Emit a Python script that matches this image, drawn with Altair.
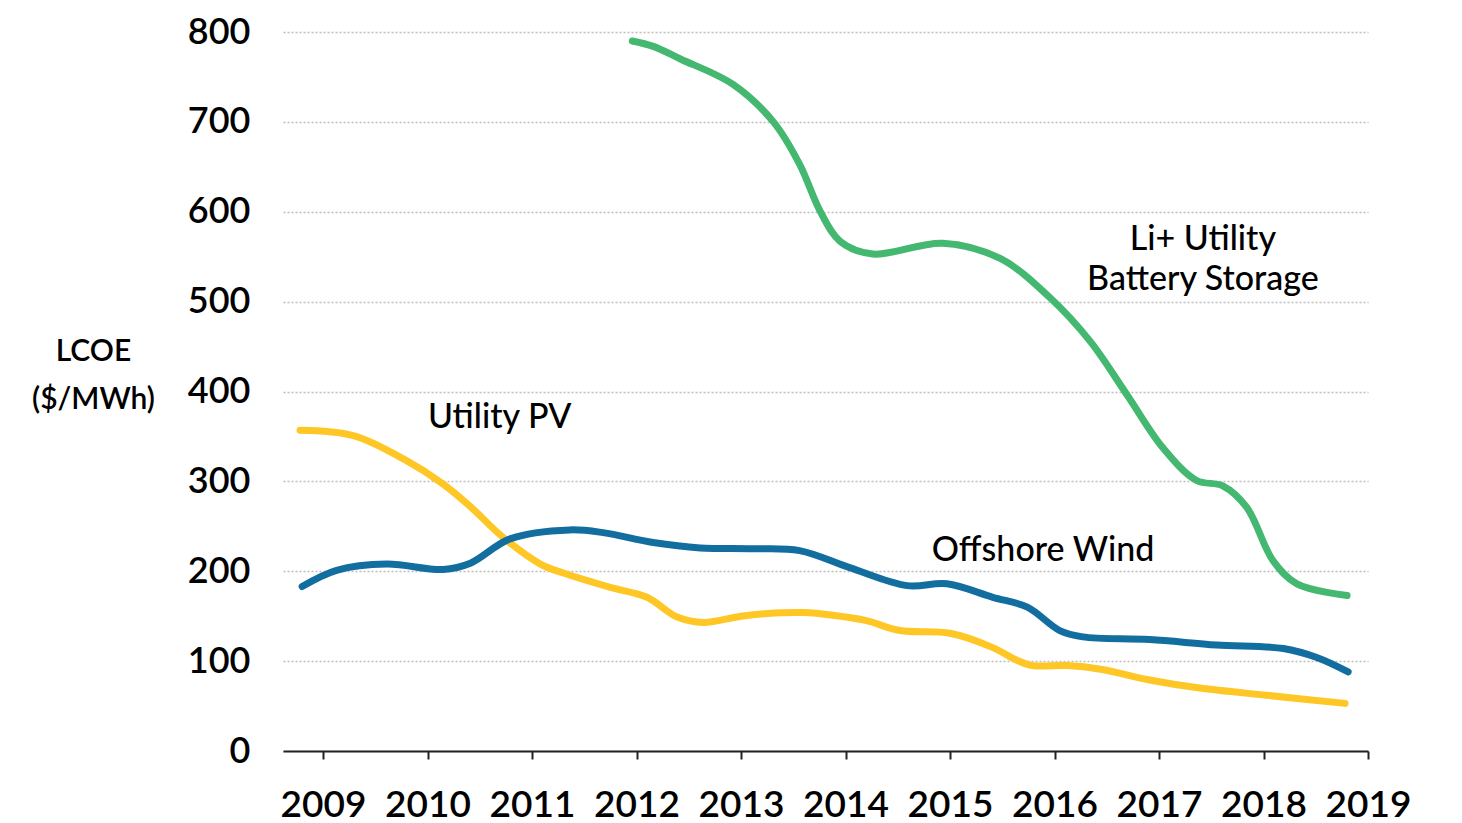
import altair as alt
import pandas as pd

# ---- data ----
pv_years = [2008.78, 2009.29, 2009.77, 2010.15, 2010.41, 2010.72, 2011.08, 2011.3, 2011.75, 2012.1,
            2012.39, 2012.64, 2013.0, 2013.25, 2013.6, 2013.88, 2014.2, 2014.52, 2015.0, 2015.41,
            2015.64, 2015.79, 2016.12, 2016.44, 2016.91, 2017.39, 2018.03, 2018.78]
pv_vals = [357, 351, 325, 297, 272, 238, 208, 198, 182, 171,
           149, 143, 150, 153, 154, 151, 145, 134, 131, 115,
           101, 95, 95, 91, 79, 70, 62, 53]

wind_years = [2008.8, 2009.13, 2009.61, 2010.15, 2010.41, 2010.79, 2011.36, 2011.68, 2012.16, 2012.61,
              2013.09, 2013.56, 2014.04, 2014.59, 2014.97, 2015.41, 2015.74, 2016.05, 2016.27, 2016.91,
              2017.55, 2018.19, 2018.51, 2018.81]
wind_vals = [183, 201, 208, 202, 209, 236, 246, 243, 232, 226,
             225, 223, 204, 184, 186, 171, 160, 134, 127, 124,
             118, 114, 104, 88]

batt_years = [2011.96, 2012.16, 2012.42, 2012.92, 2013.31, 2013.56, 2013.76, 2013.95, 2014.26, 2014.93,
              2015.48, 2015.96, 2016.34, 2016.69, 2017.04, 2017.36, 2017.61, 2017.84, 2018.09, 2018.32,
              2018.8]
batt_vals = [790, 784, 770, 742, 700, 653, 600, 567, 553, 565,
             548, 504, 456, 397, 337, 301, 295, 271, 212, 186,
             173]

series_names = ["Utility PV", "Offshore Wind", "Li+ Utility Battery Storage"]
series_colors = ["#FEC726", "#136EA0", "#44B870"]

tick_years = list(range(2009, 2020))

label_texts = ["Utility PV", "Offshore Wind", "Li+ Utility", "Battery Storage"]
label_years = [2010.69, 2015.89, 2017.42, 2017.42]
label_vals = [370, 223, 569, 524]

rows = []
for name, ys, vs in zip(series_names, [pv_years, wind_years, batt_years], [pv_vals, wind_vals, batt_vals]):
    for i, (yr, v) in enumerate(zip(ys, vs)):
        rows.append({"series": name, "year": yr, "value": v, "order": i})
df = pd.DataFrame(rows)
labels_df = pd.DataFrame({"text": label_texts, "year": label_years, "value": label_vals})

FONT = "Lato"

x_scale = alt.Scale(domain=[2008.617, 2019.0], nice=False, zero=False)
y_scale = alt.Scale(domain=[0, 800], nice=False)

lines = alt.Chart(df).mark_line(
    strokeWidth=7, interpolate="catmull-rom", strokeCap="round"
).encode(
    x=alt.X("year:Q", scale=x_scale,
            axis=alt.Axis(values=tick_years, format="d", title=None, grid=False,
                          domain=True, domainColor="#222222", domainWidth=2,
                          ticks=True, tickColor="#222222", tickWidth=2, tickSize=8,
                          labelOverlap=False, labelFlush=False,
                          labelFont=FONT, labelFontSize=37, labelFontWeight=600,
                          labelColor="#000000", labelPadding=28)),
    y=alt.Y("value:Q", scale=y_scale,
            axis=alt.Axis(values=[0, 100, 200, 300, 400, 500, 600, 700, 800],
                          domain=False, ticks=False, grid=True,
                          gridColor="#BDBDBD", gridDash=[2, 2], gridWidth=1.3,
                          labelFont=FONT, labelFontSize=36, labelFontWeight=600,
                          labelColor="#000000", labelPadding=33,
                          title=["LCOE", "($/MWh)"], titleAngle=0,
                          titleFont=FONT, titleFontSize=30, titleFontWeight=600,
                          titleColor="#000000", titleAlign="center",
                          titleBaseline="middle", titleX=-190, titleY=319,
                          titleLineHeight=48)),
    color=alt.Color("series:N", scale=alt.Scale(domain=series_names, range=series_colors), legend=None),
    order="order:Q",
)

texts = alt.Chart(labels_df).mark_text(
    font=FONT, fontSize=34, fontWeight=500, color="#000000", align="center", baseline="middle"
).encode(
    x=alt.X("year:Q", scale=x_scale),
    y=alt.Y("value:Q", scale=y_scale),
    text="text:N",
)

chart = alt.layer(lines, texts).properties(
    width=1085, height=719,
    autosize=alt.AutoSizeParams(type="none"),
    padding={"left": 275, "top": 24, "right": 60, "bottom": 73},
    background="white",
).configure_view(stroke=None, strokeWidth=0)

chart.save("out.html", embed_options={"renderer": "svg", "actions": False})
